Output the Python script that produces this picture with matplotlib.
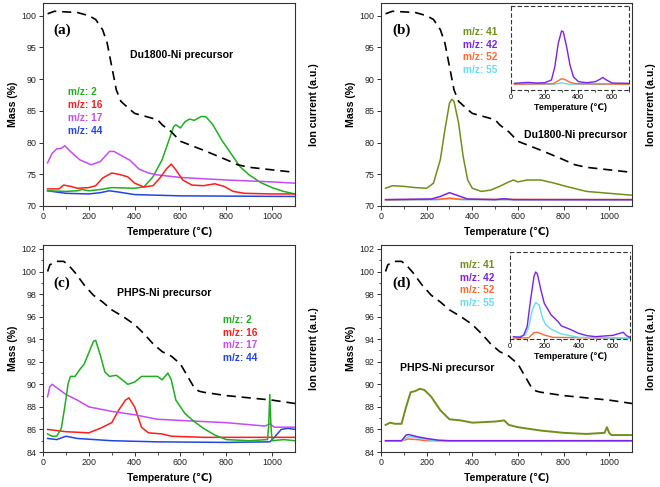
import matplotlib
matplotlib.use('Agg')
import matplotlib.pyplot as plt
import numpy as np

plt.rcParams['font.family'] = ['Liberation Sans', 'DejaVu Sans']
plt.rcParams['axes.unicode_minus'] = False

# ---- Du1800-Ni precursor: TGA (shared by a and b) ----
tga_du_t = [20, 50, 150, 200, 230, 260, 280, 300, 320, 340, 380, 400, 500, 520,
            560, 600, 700, 800, 850, 900, 1000, 1100]
tga_du_m = [100.3, 100.7, 100.5, 100.0, 99.4, 97.8, 95.7, 92.0, 88.3, 86.5, 85.2,
            84.6, 83.6, 82.8, 81.7, 80.2, 78.8, 77.3, 76.5, 76.1, 75.7, 75.3]

# panel (a) ion currents (plotted on the displayed scale)
a_t2 = [20, 100, 150, 170, 200, 250, 300, 400, 440, 480, 520, 550, 570, 580, 600,
        620, 640, 660, 690, 710, 740, 780, 820, 860, 900, 950, 1000, 1050, 1100]
a_mz2 = [72.4, 72.3, 72.4, 72.6, 72.4, 72.6, 72.9, 72.8, 73.0, 74.6, 77.3, 80.4,
         82.5, 82.8, 82.3, 83.3, 83.7, 83.5, 84.1, 84.1, 82.9, 80.4, 78.3, 76.2,
         74.9, 73.7, 72.9, 72.3, 71.9]
a_t16 = [20, 70, 90, 120, 150, 200, 230, 260, 300, 330, 370, 400, 440, 480, 510,
         540, 560, 580, 610, 650, 700, 750, 790, 830, 880, 1000, 1100]
a_mz16 = [72.7, 72.7, 73.3, 73.1, 72.8, 72.9, 73.2, 74.4, 75.2, 75.0, 74.6, 73.6,
          73.0, 73.2, 74.4, 75.9, 76.6, 75.7, 74.1, 73.3, 73.2, 73.5, 73.1, 72.3,
          72.0, 71.9, 71.9]
a_t17 = [20, 40, 60, 80, 95, 120, 160, 210, 250, 290, 310, 350, 380, 420, 460,
         500, 600, 800, 1000, 1100]
a_mz17 = [76.8, 78.3, 79.0, 79.1, 79.5, 78.6, 77.3, 76.5, 77.0, 78.6, 78.6, 77.8,
          77.2, 75.8, 75.2, 74.9, 74.5, 74.1, 73.8, 73.6]
a_t44 = [20, 100, 200, 250, 290, 330, 400, 600, 1100]
a_mz44 = [72.4, 72.0, 71.9, 72.1, 72.4, 72.2, 71.8, 71.6, 71.5]

# panel (b) ion currents
b_t41 = [20, 50, 100, 150, 200, 230, 260, 280, 300, 310, 320, 340, 360, 380, 400,
         440, 480, 520, 560, 580, 600, 640, 700, 760, 800, 900, 1000, 1100]
b_mz41 = [72.8, 73.2, 73.1, 72.9, 72.8, 73.6, 77.3, 82.0, 86.2, 86.8, 86.5, 83.1,
          77.8, 74.1, 72.8, 72.3, 72.5, 73.1, 73.8, 74.1, 73.8, 74.1, 74.1, 73.6,
          73.2, 72.3, 72.0, 71.7]
b_t42 = [20, 220, 260, 300, 340, 380, 500, 540, 580, 1100]
b_mz42 = [71.0, 71.1, 71.5, 72.1, 71.6, 71.1, 71.0, 71.15, 71.0, 71.0]
b_t52 = [20, 250, 300, 350, 1100]
b_mz52 = [71.0, 71.05, 71.25, 71.05, 71.0]
b_t55 = [20, 250, 300, 350, 1100]
b_mz55 = [70.95, 71.0, 71.15, 71.0, 70.95]

# panel (b) inset (arbitrary units, 0 = bottom of frame, 100 = top)
bi_t42 = [20, 100, 150, 200, 240, 260, 280, 300, 310, 330, 350, 370, 400, 450,
          500, 530, 545, 560, 600, 700]
bi_mz42 = [7.9, 9.1, 8.3, 8.7, 11.9, 27.7, 55.3, 70.4, 69.2, 51.4, 29.6, 15.8,
           9.9, 8.7, 9.9, 13.0, 15.0, 12.6, 8.3, 7.9]
bi_t52 = [20, 250, 280, 300, 320, 340, 380, 700]
bi_mz52 = [7.0, 7.5, 11.0, 13.4, 12.5, 10.0, 7.5, 7.0]
bi_t55 = [20, 260, 300, 340, 700]
bi_mz55 = [6.5, 7.0, 8.5, 7.0, 6.5]

# ---- PHPS-Ni precursor: TGA (shared by c and d) ----
tga_ph_t = [20, 30, 60, 90, 110, 140, 180, 220, 260, 300, 350, 400, 440, 480, 520,
            560, 600, 620, 640, 660, 680, 700, 800, 900, 1000, 1100]
tga_ph_m = [100.0, 100.6, 100.9, 100.9, 100.6, 99.9, 98.8, 97.9, 97.3, 96.6, 96.0,
            95.3, 94.5, 93.6, 92.9, 92.5, 91.8, 91.1, 90.4, 89.7, 89.4, 89.3, 89.0,
            88.8, 88.6, 88.3]

# panel (c) ion currents
c_t2 = [20, 40, 60, 80, 95, 110, 120, 140, 160, 180, 200, 220, 230, 250, 270, 290,
        320, 340, 370, 400, 430, 470, 500, 520, 545, 560, 580, 620, 660, 700, 750,
        800, 900, 980, 985, 990, 995, 1000, 1050, 1100]
c_mz2 = [85.6, 85.4, 85.4, 86.1, 88.0, 90.1, 90.7, 90.7, 91.3, 91.8, 92.8, 93.8,
         93.9, 92.6, 91.1, 90.7, 90.8, 90.5, 90.0, 90.2, 90.7, 90.7, 90.7, 90.4,
         91.0, 90.4, 88.6, 87.4, 86.7, 86.1, 85.5, 85.1, 85.0, 85.1, 86.3, 89.1,
         86.3, 85.0, 85.1, 85.0]
c_t16 = [20, 100, 200, 250, 300, 330, 360, 375, 400, 430, 460, 520, 560, 700, 1100]
c_mz16 = [86.0, 85.8, 85.7, 86.1, 86.6, 87.7, 88.6, 88.8, 88.0, 86.2, 85.7, 85.6,
          85.4, 85.3, 85.3]
c_t17 = [20, 30, 40, 60, 100, 150, 200, 300, 400, 500, 600, 800, 970, 990, 1010,
         1100]
c_mz17 = [88.9, 89.8, 90.0, 89.7, 89.1, 88.6, 88.0, 87.6, 87.3, 86.9, 86.8, 86.6,
          86.3, 86.5, 86.2, 86.2]
c_t44 = [20, 60, 100, 150, 300, 500, 800, 990, 1010, 1040, 1070, 1100]
c_mz44 = [85.2, 85.1, 85.4, 85.2, 85.0, 84.9, 84.85, 84.9, 85.3, 86.0, 86.1, 86.0]

# panel (d) ion currents
d_t41 = [20, 40, 60, 90, 110, 130, 150, 170, 190, 220, 260, 300, 350, 400, 500,
         540, 560, 600, 700, 800, 900, 980, 990, 1000, 1010, 1100]
d_mz41 = [86.4, 86.6, 86.5, 86.5, 88.0, 89.3, 89.4, 89.6, 89.5, 88.9, 87.7, 86.9,
          86.8, 86.6, 86.7, 86.8, 86.4, 86.2, 85.9, 85.7, 85.6, 85.7, 86.2, 85.7,
          85.5, 85.5]
d_t42 = [20, 90, 110, 120, 160, 200, 250, 300, 1100]
d_mz42 = [85.0, 85.0, 85.5, 85.55, 85.35, 85.2, 85.05, 85.0, 85.0]
d_t52 = [20, 90, 120, 160, 200, 1100]
d_mz52 = [85.0, 85.0, 85.15, 85.1, 85.0, 85.0]
d_t55 = [20, 90, 120, 150, 200, 250, 1100]
d_mz55 = [85.0, 85.0, 85.35, 85.3, 85.1, 85.0, 85.0]

# panel (d) inset
di_t42 = [20, 60, 80, 100, 120, 140, 150, 160, 180, 200, 240, 280, 300, 350, 400,
          450, 500, 600, 640, 660, 680, 700]
di_mz42 = [2.7, 1.9, 4.6, 14.2, 45.0, 72.0, 77.0, 74.6, 56.5, 41.0, 27.7, 20.0,
           15.0, 11.2, 6.5, 3.8, 2.7, 4.2, 6.5, 7.7, 3.8, 1.9]
di_t52 = [20, 110, 140, 160, 200, 250, 700]
di_mz52 = [0.8, 1.5, 7.3, 7.7, 4.6, 1.9, 0.8]
di_t55 = [20, 90, 110, 130, 150, 170, 190, 210, 240, 300, 400, 700]
di_mz55 = [1.2, 4.6, 14.2, 33.5, 42.0, 39.0, 23.8, 16.0, 11.2, 5.8, 1.9, 0.8]

GREEN = '#1fae1f'
RED = '#ff1c1c'
MAGENTA = '#c44cf2'
BLUE = '#2444e0'
OLIVE = '#6f8f1a'
VIOLET = '#7a22e6'
ORANGE = '#ff6a30'
CYAN = '#66dcf0'

TICK_FS = 6.4
LABEL_FS = 7.6
NOTE_FS = 7.6
LEG_FS = 7.3


def style_main(ax, ylim, yticks):
    ax.set_xlim(0, 1100)
    ax.set_ylim(*ylim)
    ax.set_xticks([0, 200, 400, 600, 800, 1000])
    ax.set_xticks(np.arange(100, 1100, 200), minor=True)
    ax.set_yticks(yticks)
    ax.tick_params(axis='both', which='major', direction='out', length=3,
                   width=0.7, labelsize=TICK_FS, pad=1.5, colors='#333333',
                   labelcolor='#222222')
    ax.tick_params(axis='both', which='minor', direction='out', length=1.8,
                   width=0.6, colors='#333333')
    ax.tick_params(top=False, right=False)
    for s in ax.spines.values():
        s.set_linewidth(0.8)
        s.set_color('#333333')
    ax.set_xlabel('Temperature (℃)', fontsize=LABEL_FS, fontweight='bold',
                  labelpad=4)
    ax.set_ylabel('Mass (%)', fontsize=LABEL_FS, fontweight='bold', labelpad=3)
    ax2 = ax.twinx()
    ax2.set_ylim(*ylim)
    ax2.set_yticks([])
    ax2.set_ylabel('Ion current (a.u.)', fontsize=LABEL_FS, fontweight='bold',
                   labelpad=10)
    for s in ax2.spines.values():
        s.set_visible(False)
    return ax2


def style_inset(ax):
    ax.set_xlim(0, 700)
    ax.set_ylim(0, 100)
    ax.set_xticks([0, 200, 400, 600])
    ax.set_xticks([100, 300, 500, 700], minor=True)
    ax.set_yticks([])
    ax.tick_params(axis='x', which='major', direction='out', length=2,
                   width=0.6, labelsize=5.2, pad=1)
    ax.tick_params(axis='x', which='minor', direction='out', length=1.2,
                   width=0.5)
    for s in ax.spines.values():
        s.set_linestyle((0, (3, 3)))
        s.set_linewidth(0.8)
        s.set_color('#333333')
    ax.set_xlabel('Temperature (℃)', fontsize=6.4, fontweight='bold', labelpad=1.5)
    ax.patch.set_alpha(0)


def note(ax, x, y, s, **kw):
    ax.text(x, y, s, transform=ax.transAxes, va='center', ha='left', **kw)


fig = plt.figure(figsize=(6.6, 4.87), dpi=100)
W, H = 660.0, 487.0


def box(l, t, r, b):
    return [l / W, 1 - b / H, (r - l) / W, (b - t) / H]


ax_a = fig.add_axes(box(43, 3, 295, 206))
ax_b = fig.add_axes(box(381, 3, 632, 206))
ax_c = fig.add_axes(box(43, 245, 295, 452))
ax_d = fig.add_axes(box(381, 245, 632, 452))

dash = (0, (5.5, 3.5))
lw = 1.1

# (a)
ia = style_main(ax_a, (70, 102), [70, 75, 80, 85, 90, 95, 100])
ia.plot(a_t44, a_mz44, color=BLUE, lw=lw)
ia.plot(a_t2, a_mz2, color=GREEN, lw=lw)
ia.plot(a_t17, a_mz17, color=MAGENTA, lw=lw)
ia.plot(a_t16, a_mz16, color=RED, lw=lw)
ia.plot(tga_du_t, tga_du_m, color='black', lw=1.2, ls=dash)
note(ax_a, 0.04, 0.867, '(a)', fontsize=11, fontweight='bold',
     family='Liberation Serif')
note(ax_a, 0.345, 0.744, 'Du1800-Ni precursor', fontsize=NOTE_FS,
     fontweight='bold')
for i, (lab, c) in enumerate([('m/z: 2', GREEN), ('m/z: 16', RED),
                              ('m/z: 17', MAGENTA), ('m/z: 44', BLUE)]):
    note(ax_a, 0.099, 0.562 - i * 0.0645, lab, color=c, fontsize=LEG_FS,
         fontweight='bold')

# (b)
ib = style_main(ax_b, (70, 102), [70, 75, 80, 85, 90, 95, 100])
ib.plot(b_t55, b_mz55, color=CYAN, lw=lw)
ib.plot(b_t52, b_mz52, color=ORANGE, lw=lw)
ib.plot(b_t42, b_mz42, color=VIOLET, lw=lw)
ib.plot(b_t41, b_mz41, color=OLIVE, lw=lw)
ib.plot(tga_du_t, tga_du_m, color='black', lw=1.2, ls=dash)
note(ax_b, 0.044, 0.867, '(b)', fontsize=11, fontweight='bold',
     family='Liberation Serif')
note(ax_b, 0.57, 0.350, 'Du1800-Ni precursor', fontsize=NOTE_FS,
     fontweight='bold')
for i, (lab, c) in enumerate([('m/z: 41', OLIVE), ('m/z: 42', VIOLET),
                              ('m/z: 52', ORANGE), ('m/z: 55', CYAN)]):
    note(ax_b, 0.327, 0.859 - i * 0.0635, lab, color=c, fontsize=LEG_FS,
         fontweight='bold')

bin_ = fig.add_axes(box(511, 6, 629, 90))
style_inset(bin_)
bin_.plot(bi_t55, bi_mz55, color=CYAN, lw=1.0)
bin_.plot(bi_t52, bi_mz52, color=ORANGE, lw=1.0)
bin_.plot(bi_t42, bi_mz42, color=VIOLET, lw=1.0)

# (c)
ic = style_main(ax_c, (84, 102.35), [84, 86, 88, 90, 92, 94, 96, 98, 100, 102])
ax_c.set_yticks(np.arange(85, 102, 2), minor=True)
ic.plot(c_t44, c_mz44, color=BLUE, lw=lw)
ic.plot(c_t16, c_mz16, color=RED, lw=lw)
ic.plot(c_t17, c_mz17, color=MAGENTA, lw=lw)
ic.plot(c_t2, c_mz2, color=GREEN, lw=lw)
ic.plot(tga_ph_t, tga_ph_m, color='black', lw=1.2, ls=dash)
note(ax_c, 0.04, 0.816, '(c)', fontsize=11, fontweight='bold',
     family='Liberation Serif')
note(ax_c, 0.294, 0.768, 'PHPS-Ni precursor', fontsize=NOTE_FS,
     fontweight='bold')
for i, (lab, c) in enumerate([('m/z: 2', GREEN), ('m/z: 16', RED),
                              ('m/z: 17', MAGENTA), ('m/z: 44', BLUE)]):
    note(ax_c, 0.714, 0.638 - i * 0.061, lab, color=c, fontsize=LEG_FS,
         fontweight='bold')

# (d)
id_ = style_main(ax_d, (84, 102.35), [84, 86, 88, 90, 92, 94, 96, 98, 100, 102])
ax_d.set_yticks(np.arange(85, 102, 2), minor=True)
id_.plot(d_t52, d_mz52, color=ORANGE, lw=lw)
id_.plot(d_t55, d_mz55, color=CYAN, lw=lw)
id_.plot(d_t42, d_mz42, color=VIOLET, lw=lw)
id_.plot(d_t41, d_mz41, color=OLIVE, lw=1.4)
id_.plot(tga_ph_t, tga_ph_m, color='black', lw=1.2, ls=dash)
note(ax_d, 0.044, 0.816, '(d)', fontsize=11, fontweight='bold',
     family='Liberation Serif')
note(ax_d, 0.076, 0.406, 'PHPS-Ni precursor', fontsize=NOTE_FS,
     fontweight='bold')
for i, (lab, c) in enumerate([('m/z: 41', OLIVE), ('m/z: 42', VIOLET),
                              ('m/z: 52', ORANGE), ('m/z: 55', CYAN)]):
    note(ax_d, 0.315, 0.903 - i * 0.061, lab, color=c, fontsize=LEG_FS,
         fontweight='bold')

din = fig.add_axes(box(510, 252, 630, 339))
style_inset(din)
din.plot(di_t52, di_mz52, color=ORANGE, lw=1.0)
din.plot(di_t55, di_mz55, color=CYAN, lw=1.0)
din.plot(di_t42, di_mz42, color=VIOLET, lw=1.0)

fig.savefig('out.png', dpi=100)
